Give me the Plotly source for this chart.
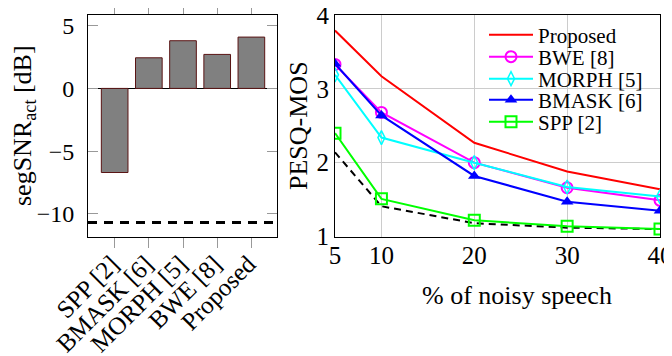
import plotly.graph_objects as go

# ---- data: left bar chart ----
methods = ["SPP [2]", "BMASK [6]", "MORPH [5]", "BWE [8]", "Proposed"]
segsnr = [-6.7, 2.44, 3.8, 2.71, 4.09]
segsnr_unprocessed = -10.69

# ---- data: right line chart ----
noisy_pct = [5, 10, 20, 30, 40]
pesq_proposed = [3.79, 3.17, 2.27, 1.88, 1.64]
pesq_bwe = [3.33, 2.68, 2.00, 1.66, 1.49]
pesq_morph = [3.19, 2.34, 2.00, 1.67, 1.54]
pesq_bmask = [3.34, 2.64, 1.82, 1.47, 1.35]
pesq_spp = [2.40, 1.51, 1.22, 1.14, 1.10]
pesq_unprocessed = [2.14, 1.41, 1.18, 1.12, 1.10]

W, H = 672, 356
FAM = "Liberation Serif"
OFF = 8  # page body margin


def px(x):
    return (x - OFF) / W


def py(y):
    return 1 - (y - OFF) / H


def f(size):
    return dict(family=FAM, size=size, color="black")


fig = go.Figure()

# left: bars
fig.add_trace(go.Bar(
    x=list(range(len(methods))), y=segsnr, xaxis="x", yaxis="y",
    marker=dict(color="#808080", line=dict(color="#5a1414", width=1)),
    width=0.78, showlegend=False,
))
fig.add_shape(type="line", xref="x domain", yref="y", x0=0, x1=1,
              y0=segsnr_unprocessed, y1=segsnr_unprocessed,
              line=dict(color="black", width=3, dash="9px,7px"))

# legend background (white box hiding the grid)
fig.add_shape(type="rect", xref="paper", yref="paper", layer="between",
              x0=px(477), x1=px(660), y0=py(141), y1=py(15),
              fillcolor="white", line=dict(width=0))

# right: lines
fig.add_trace(go.Scatter(x=noisy_pct, y=pesq_unprocessed, xaxis="x2", yaxis="y2",
                         mode="lines", line=dict(color="black", width=2, dash="7px,5px"),
                         showlegend=False))
series = [
    ("Proposed", pesq_proposed, "#ff0000", "lines", None),
    ("BWE [8]", pesq_bwe, "#ff00ff", "lines+markers",
     dict(symbol="circle-open", size=11, line=dict(width=2, color="#ff00ff"))),
    ("MORPH [5]", pesq_morph, "#00ffff", "lines+markers",
     dict(symbol="diamond-tall-open", size=10, line=dict(width=1.5, color="#00ffff"))),
    ("BMASK [6]", pesq_bmask, "#0000ff", "lines+markers",
     dict(symbol="triangle-up", size=11, color="#0000ff")),
    ("SPP [2]", pesq_spp, "#00ff00", "lines+markers",
     dict(symbol="square-open", size=11, line=dict(width=2, color="#00ff00"))),
]
row_y = [35, 57, 79, 100, 122]
legend_layouts = {}
for i, (name, vals, col, mode, mk) in enumerate(series):
    lg = "legend" if i == 0 else f"legend{i + 1}"
    kw = dict(x=noisy_pct, y=vals, xaxis="x2", yaxis="y2", name=name, mode=mode,
              line=dict(color=col, width=2), legend=lg)
    if mk is not None:
        kw["marker"] = mk
    fig.add_trace(go.Scatter(**kw))
    legend_layouts[lg] = dict(x=px(484), y=py(row_y[i]), xanchor="left", yanchor="middle",
                              bgcolor="rgba(0,0,0,0)", borderwidth=0, font=f(21),
                              itemwidth=44)

ydom = [py(236.5), py(15)]

fig.update_layout(
    width=W, height=H, margin=dict(l=0, r=0, t=0, b=0, autoexpand=False),
    paper_bgcolor="white", plot_bgcolor="white",
    font=f(24),
    showlegend=True,
    xaxis=dict(domain=[px(88), px(277)], range=[-0.78, 4.75], automargin=False,
               tickmode="array", tickvals=list(range(len(methods))), ticktext=methods,
               tickangle=-45, ticks="outside", ticklen=10, tickcolor="#999999",
               showline=True, linecolor="black", linewidth=1, mirror="allticks",
               showgrid=False, zeroline=False, tickfont=f(25), ticklabelshift=-3,
               ticklabelstandoff=-8, ticklabeloverflow="allow"),
    yaxis=dict(domain=ydom, range=[-11.8, 5.85], tickvals=[-10, -5, 0, 5], automargin=False,
               ticktext=["\u221210", "\u22125", "0", "5"],
               ticks="inside", ticklen=10, tickcolor="#999999",
               showline=True, linecolor="black", linewidth=1, mirror="allticks",
               showgrid=False, zeroline=True, zerolinecolor="black", zerolinewidth=1.2,
               anchor="x", tickfont=f(24), ticklabelstandoff=8, ticklabeloverflow="allow"),
    xaxis2=dict(domain=[px(335), px(660)], range=[5, 40], tickvals=noisy_pct, automargin=False,
                ticks="", showline=True, linecolor="black", linewidth=1, mirror=True,
                showgrid=True, gridcolor="#cccccc", gridwidth=1, zeroline=False, anchor="y2",
                tickfont=f(25), ticklabelstandoff=-4, ticklabeloverflow="allow"),
    yaxis2=dict(domain=ydom, range=[1, 4], tickvals=[1, 2, 3, 4], automargin=False,
                ticks="", showline=True, linecolor="black", linewidth=1, mirror=True,
                showgrid=True, gridcolor="#cccccc", gridwidth=1, zeroline=False, anchor="x2",
                tickfont=f(25), ticklabelstandoff=0, ticklabeloverflow="allow"),
    annotations=[
        dict(text="segSNR<sub>act</sub> [dB]", x=px(24), y=py(126), xref="paper", yref="paper",
             textangle=-90, showarrow=False, font=f(26), xanchor="center", yanchor="middle"),
        dict(text="PESQ-MOS", x=px(298), y=py(126), xref="paper", yref="paper",
             textangle=-90, showarrow=False, font=f(26), xanchor="center", yanchor="middle"),
        dict(text="% of noisy speech", x=px(517), y=py(295), xref="paper", yref="paper",
             showarrow=False, font=f(26), xanchor="center", yanchor="middle"),
    ],
    **legend_layouts,
)

fig.write_html("out.html")
